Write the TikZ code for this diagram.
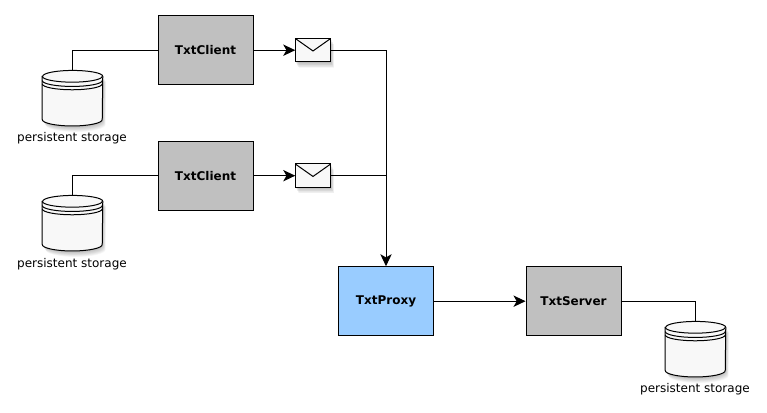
\documentclass[tikz,border=0pt]{standalone}
\usepackage{fontspec}
\setmainfont{DejaVu Sans}
\usetikzlibrary{arrows.meta}
\definecolor{boxgrey}{HTML}{C0C0C0}
\definecolor{proxyblue}{HTML}{99CCFF}
\definecolor{shapefill}{HTML}{F8F8F8}
\tikzset{
  x=0.75pt,y=-0.75pt,
  every node/.style={font=\fontsize{9pt}{11pt}\selectfont},
  unitbox/.style={draw=black,line width=0.75pt,minimum width=71.25pt,minimum height=51.75pt,inner sep=0pt,font=\fontsize{9pt}{11pt}\selectfont\bfseries},
  client/.style={unitbox,fill=boxgrey},
  proxy/.style={unitbox,fill=proxyblue},
  link/.style={line width=0.75pt,draw=black},
  flow/.style={link,-{Stealth[length=9pt,width=8.5pt,inset=2.4pt]}},
  envbox/.style={minimum width=26.25pt,minimum height=17.25pt,inner sep=0pt},
  storebox/.style={minimum width=45pt,minimum height=41.25pt,inner sep=0pt},
  storelabel/.style={inner sep=0pt,anchor=center},
}
% envelope drawn inside a named node: #1 = node name
\newcommand{\envelope}[1]{%
  \foreach \s in {1,...,9}{
    \fill[black,opacity=0.03] ([xshift=\s*0.28pt,yshift=-\s*0.5pt]#1.south west) rectangle ([xshift=\s*0.28pt,yshift=-\s*0.5pt]#1.north east);
  }
  \draw[line width=0.75pt,fill=shapefill] (#1.south west) rectangle (#1.north east);
  \draw[line width=0.75pt] (#1.north west) -- ([yshift=-9.4pt]#1.north) -- (#1.north east);
}
% cylinder drawn inside a named node: #1 = node name
\newcommand{\storage}[1]{%
  \foreach \s in {1,...,9}{
    \fill[black,opacity=0.03] ([xshift=\s*0.28pt,yshift=5.5pt-\s*0.5pt]#1.south west) arc[start angle=180,end angle=360,x radius=22.5pt,y radius=5.5pt] -- ([xshift=\s*0.28pt,yshift=-\s*0.5pt-4pt]#1.north east) -- ([xshift=\s*0.28pt,yshift=-\s*0.5pt-4pt]#1.north west) -- cycle;
  }
  \draw[line width=0.75pt,fill=shapefill] ([yshift=-4.4pt]#1.north west) -- ([yshift=4.8pt]#1.south west) arc[start angle=180,end angle=360,x radius=22.5pt,y radius=4.8pt] -- ([yshift=-4.4pt]#1.north east) arc[start angle=0,end angle=180,x radius=22.5pt,y radius=4.4pt] -- cycle;
  \draw[line width=0.75pt] ([yshift=-4.4pt]#1.north west) arc[start angle=180,end angle=360,x radius=22.5pt,y radius=4.4pt];
  \draw[line width=0.75pt] ([yshift=-7.6pt]#1.north west) arc[start angle=180,end angle=360,x radius=22.5pt,y radius=4.4pt];
  \draw[line width=0.75pt] ([yshift=-10.1pt]#1.north west) arc[start angle=180,end angle=360,x radius=22.5pt,y radius=4.4pt];
}
\begin{document}
\begin{tikzpicture}
\useasboundingbox (0,-0.7) rectangle (767,412.3);
\fill[white] (0,-0.7) rectangle (767,412.3);
% nodes
\node[client] (c1) at (205.5,49.5) {TxtClient};
\node[client] (c2) at (205.5,175) {TxtClient};
\node[proxy] (p) at (386,300.5) {TxtProxy};
\node[client] (srv) at (573.5,300.5) {TxtServer};
\node[envbox] (e1) at (313,49.5) {};
\node[envbox] (e2) at (313,175) {};
\node[storebox] (s1) at (72.5,97.5) {};
\node[storebox] (s2) at (72.5,222.5) {};
\node[storebox] (s3) at (695.5,348.5) {};
\node[storelabel] (l1) at (72,137.5) {persistent storage};
\node[storelabel] (l2) at (72,263.5) {persistent storage};
\node[storelabel] (l3) at (695,388.5) {persistent storage};
\coordinate (j) at (p.north |- e2.east);
% connectors
\draw[link] (s1.north) |- (c1.west);
\draw[link] (s2.north) |- (c2.west);
\draw[link] (s3.north) |- (srv.east);
\draw[flow] (c1.east) -- (e1.west);
\draw[flow] (c2.east) -- (e2.west);
\draw[flow] (e1.east) -| (p.north);
\draw[link] (e2.east) -- (j);
\draw[flow] (p.east) -- (srv.west);
% shapes
\envelope{e1}
\envelope{e2}
\storage{s1}
\storage{s2}
\storage{s3}
\end{tikzpicture}
\end{document}
